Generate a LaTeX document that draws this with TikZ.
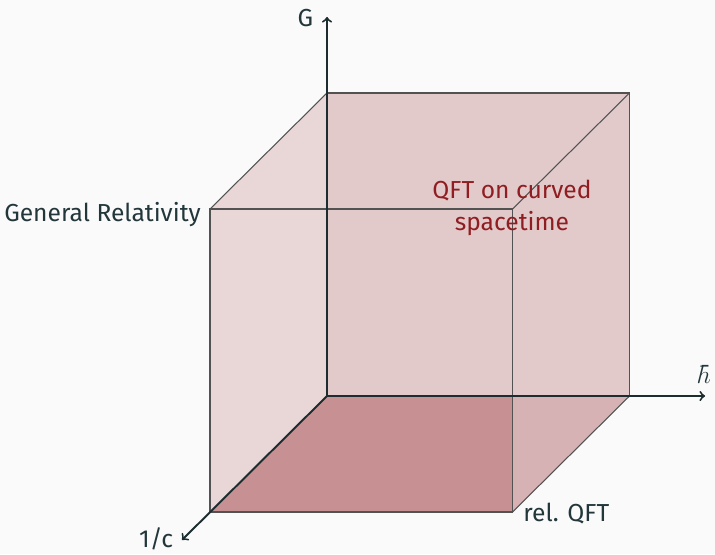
\documentclass[tikz,border=0pt]{standalone}
\usepackage{fontspec}
\setmainfont{Fira Sans}
\definecolor{fg}{HTML}{23373B}
\definecolor{cubered}{HTML}{8F1D21}
\definecolor{paper}{HTML}{FAFAFA}
\tikzset{edge/.style={draw=black!68,line width=0.6pt},
  axis/.style={->,fg!80!black,line width=1.1pt},
  face/.style={fill=cubered,fill opacity=#1}}
\begin{document}
\begin{tikzpicture}[font=\fontsize{14}{17}\selectfont]
\fill[paper] (-6.54,-3.16) rectangle (7.76,7.92);
% back face (1/c=0)
\coordinate (o) at (0,0); \coordinate (h) at (6.05,0); \coordinate (gh) at (6.05,6.06); \coordinate (g) at (0,6.06);
% front face
\coordinate (c) at (-2.34,-2.32); \coordinate (ch) at (3.71,-2.32); \coordinate (cgh) at (3.71,3.74); \coordinate (cg) at (-2.34,3.74);
\coordinate (hc) at (3.71,0);
\fill[face=.22] (o)--(h)--(gh)--(g)--cycle;
\fill[face=.155] (o)--(g)--(cg)--(c)--cycle;
\fill[face=.32] (o)--(h)--(ch)--(c)--cycle;
\fill[face=.22] (o)--(hc)--(ch)--(c)--cycle;
\draw[edge] (g)--(gh)--(h); \draw[edge] (c)--(ch)--(cgh)--(cg)--cycle;
\draw[edge] (g)--(cg); \draw[edge] (gh)--(cgh); \draw[edge] (h)--(ch);
% axes
\coordinate (gtip) at (0,7.58); \coordinate (htip) at (7.56,0); \coordinate (ctip) at (-2.9,-2.88);
\draw[axis] (o)--(gtip); \draw[axis] (o)--(htip); \draw[axis] (o)--(ctip);
\node[fg,anchor=east,inner sep=2pt] (lblG) at (-0.2,7.55) {G};
\node[fg,anchor=south,inner sep=2pt] (lblH) at (7.58,0.18) {$\hbar$};
\node[fg,anchor=east,inner sep=2pt] (lblC) at (-3.0,-2.86) {1/c};
\node[fg,anchor=base east,inner sep=0pt] (gr) at (-2.52,3.5) {General Relativity};
\node[fg,anchor=base west,inner sep=0pt] (qft) at (3.92,-2.5) {rel. QFT};
\node[cubered,align=center,inner sep=0pt,font=\fontsize{14}{18}\selectfont] (cst) at (3.7,3.76) {QFT on curved\\spacetime};
\end{tikzpicture}
\end{document}
